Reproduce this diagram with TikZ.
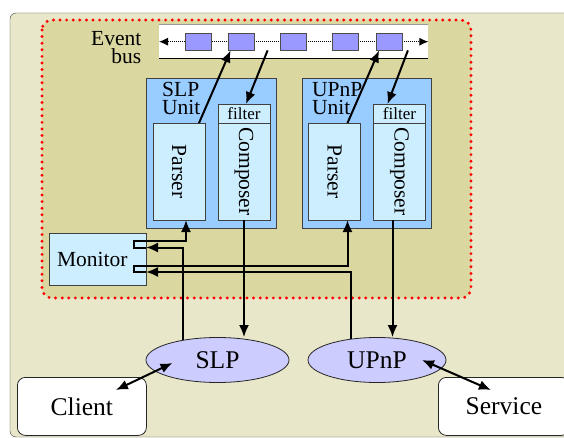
\documentclass[tikz,border=0pt]{standalone}
\usepackage{fontspec}
\setmainfont{Liberation Serif}
\newfontfamily\diagserif{Liberation Serif}
\usetikzlibrary{positioning, shapes.geometric, arrows.meta}

\definecolor{outerbg}{RGB}{233,231,201}
\definecolor{innerbg}{RGB}{218,215,160}
\definecolor{unitblue}{RGB}{153,204,255}
\definecolor{partblue}{RGB}{204,238,255}
\definecolor{msgblue}{RGB}{153,153,255}
\definecolor{protoblue}{RGB}{204,204,255}

\newcommand\bigtxt{\diagserif\fontsize{25.5}{28}\selectfont}
\newcommand\midtxt{\diagserif\fontsize{21.5}{18.2}\selectfont}
\newcommand\smalltxt{\diagserif\fontsize{17}{19}\selectfont}

\tikzset{
  unit/.style={draw=black!75, fill=unitblue, line width=0.8pt, minimum width=129.5pt, minimum height=150pt, inner sep=0pt, outer sep=0pt},
  part/.style={draw=black!75, fill=partblue, line width=0.8pt, minimum width=52pt, inner sep=0pt, outer sep=0pt},
  msg/.style={draw=black!70, fill=msgblue, line width=0.8pt, minimum width=26pt, minimum height=17pt, inner sep=0pt},
  proto/.style={ellipse, draw=black!85, fill=protoblue, line width=0.8pt, minimum height=45pt, inner sep=0pt, font=\bigtxt},
  endpoint/.style={draw=black!85, fill=white, rounded corners=8pt, line width=0.8pt, minimum width=129pt, minimum height=58pt, inner sep=0pt, font=\bigtxt},
  dotborder/.style={draw=red, line width=3.2pt, dash pattern=on 0pt off 6.6pt, line cap=round, rounded corners=10pt},
  busline/.style={line width=1pt, dash pattern=on 1pt off 1pt, >={Latex[length=9pt, width=8pt]}, <->},
  flow/.style={line width=2pt, ->}
}

\begin{document}
\begin{tikzpicture}[x=1pt, y=-1pt, >={Latex[length=12pt, width=10pt]}]
    \useasboundingbox (0,0) rectangle (564,438);
    \clip (0,0) rectangle (564,438);

    % Host and middleware area (runs off the right edge)
    \fill[outerbg, rounded corners=6pt] (10,13) rectangle (600,437);
    \draw[black!75, rounded corners=6pt] (600,437) -| (10,13) -- (600,13);
    \draw[dotborder, fill=innerbg] (42,20) rectangle (471,298);

    % Event bus
    \node[fill=white, minimum width=269pt, minimum height=33pt, inner sep=0pt, anchor=north west] (bus) at (159,25) {};
    \draw[black!40, line width=1pt] (bus.north west) -- (bus.north east);
    \draw[line width=1pt] (bus.south west) -- (bus.south east);
    \draw[busline] (bus.west) -- (bus.east);
    \foreach \x [count=\i] in {198.5, 241, 293, 345, 389.5}
        \node[msg] (msg\i) at (\x,41.5) {};
    \node[align=right, inner sep=0pt, anchor=north east, font=\midtxt] (buslabel) at (141.5,31.5) {Event\\bus};

    % SLP unit
    \node[unit, anchor=north west] (slpunit) at (146.5,78) {};
    \node[align=left, inner sep=0pt, anchor=north west, font=\midtxt] (slplabel) at (162,82) {SLP\\Unit};
    \node[part, minimum height=97pt, anchor=south west] (slpparser) at ([xshift=6.5pt, yshift=8pt]slpunit.south west) {};
    \node[part, minimum height=97pt, anchor=south east] (slpcomp) at ([xshift=-6pt, yshift=8pt]slpunit.south east) {};
    \node[part, minimum height=19pt, font=\smalltxt, above=0pt of slpcomp] (slpfilter) {filter};
    \node[rotate=-90, font=\midtxt] (slpparsertext) at (slpparser) {Parser};
    \node[rotate=-90, font=\midtxt] (slpcomptext) at (slpcomp) {Composer};

    % UPnP unit
    \node[unit, anchor=north west] (upnpunit) at (302,78) {};
    \node[align=left, inner sep=0pt, anchor=north west, font=\midtxt] (upnplabel) at (312,82) {UPnP\\Unit};
    \node[part, minimum height=97pt, anchor=south west] (upnpparser) at ([xshift=6.5pt, yshift=8pt]upnpunit.south west) {};
    \node[part, minimum height=97pt, anchor=south east] (upnpcomp) at ([xshift=-6pt, yshift=8pt]upnpunit.south east) {};
    \node[part, minimum height=19pt, font=\smalltxt, above=0pt of upnpcomp] (upnpfilter) {filter};
    \node[rotate=-90, font=\midtxt] (upnpparsertext) at (upnpparser) {Parser};
    \node[rotate=-90, font=\midtxt] (upnpcomptext) at (upnpcomp) {Composer};

    % Monitor with its two ports
    \node[part, minimum width=97pt, minimum height=52pt, anchor=north west, text width=81pt, inner xsep=8pt, align=left, font=\midtxt] (mon) at (49,233) {Monitor};
    \coordinate (monout1) at ([yshift=-7.5pt]mon.north east);
    \coordinate (monback1) at ([yshift=-14.5pt]mon.north east);
    \coordinate (monout2) at ([yshift=-32.5pt]mon.north east);
    \coordinate (monback2) at ([yshift=-39pt]mon.north east);
    \draw[line width=2pt] (monout1) -- ++(-12.5,0) |- (monback1);
    \draw[line width=2pt] (monout2) -- ++(-12.5,0) |- (monback2);

    % Protocols and end points
    \node[proto, minimum width=143pt] (slp) at (217.5,360) {SLP};
    \node[proto, minimum width=138pt] (upnp) at (377,360) {UPnP};
    \node[endpoint, anchor=north west] (client) at (17,377) {Client};
    \node[endpoint, minimum width=131pt, anchor=north west] (service) at (438,377) {Service};

    % Parsers publish, composers subscribe
    \path[flow]
    ([xshift=-6pt]slpparser.north east) edge ([xshift=3pt]msg2.south west)
    ([xshift=-12pt]msg3.south west) edge ([xshift=2pt]slpfilter.north)
    ([xshift=-13pt]upnpparser.north east) edge ([xshift=3pt]msg5.south west)
    ([xshift=5pt]msg5.south east) edge ([xshift=-12pt]upnpfilter.north);

    % Composers down to the protocols
    \draw[flow] (slpcomp.south) -- (slpcomp.south |- slp.north);
    \draw[flow] ([xshift=-7pt]upnpcomp.south) -- ([xshift=-7pt]upnpcomp.south |- upnp.north);

    % Protocols through the monitor to the parsers
    \draw[flow] (slp.150) |- (monback1);
    \draw[flow] (monout1) -| ([xshift=7pt]slpparser.south);
    \draw[flow] (upnp.141) |- (monback2);
    \draw[flow] (monout2) -| ([xshift=13pt]upnpparser.south);

    % End points
    \draw[flow, <->] ([xshift=34pt, yshift=-13pt]client.north) -- ([xshift=-45pt, yshift=-3pt]slp.center);
    \draw[flow, <->] ([xshift=45pt]upnp.center) -- ([xshift=-13pt, yshift=-13pt]service.north);
\end{tikzpicture}
\end{document}
